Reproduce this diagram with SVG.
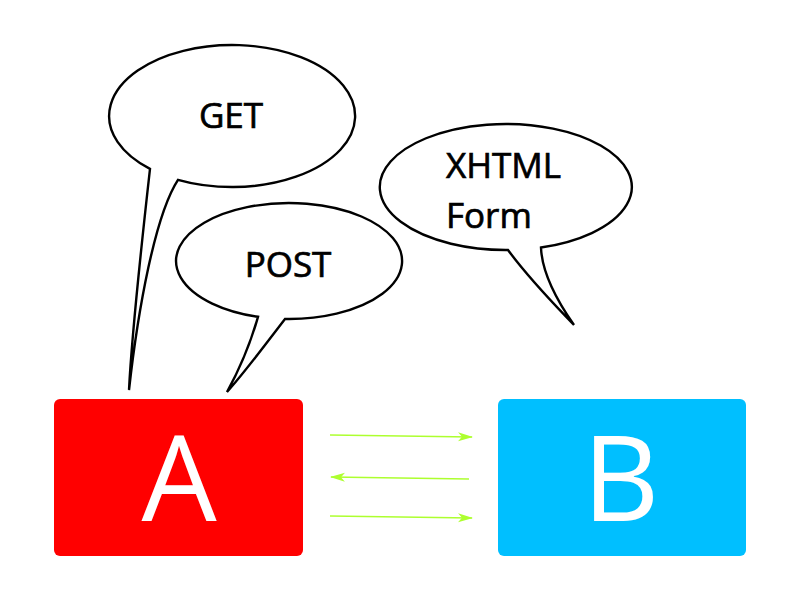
<svg xmlns="http://www.w3.org/2000/svg" width="800" height="600" viewBox="0 0 800 600">
<style>
.bubble{fill:#fff;stroke:#000;stroke-width:2.4;stroke-linejoin:miter}
.btxt{font-family:"Open Sans","Noto Sans",sans-serif;font-size:35px;fill:#000;stroke:#000;stroke-width:0.7}
.big{font-family:"Open Sans","Noto Sans",sans-serif;font-size:119px;fill:#fff;text-anchor:middle}
.conn{stroke:#adff2f;stroke-width:1.5;fill:none;marker-end:url(#ah)}
</style>
<defs>
<marker id="ah" markerWidth="16" markerHeight="10" refX="14" refY="4.5" orient="auto" markerUnits="userSpaceOnUse">
<path d="M0,0 L15,4.5 L0,9 L4,4.5 Z" fill="#adff2f"/>
</marker>
</defs>
<rect width="800" height="600" fill="#fff"/>
<g id="nodeA">
<rect x="54" y="399" width="249" height="157" rx="6" fill="#ff0000"/>
<text class="big" x="179" y="521">A</text>
</g>
<g id="nodeB">
<rect x="498" y="399" width="248" height="157" rx="6" fill="#00bfff"/>
<text class="big" x="621" y="521">B</text>
</g>
<g id="bubbleGET">
<path class="bubble" d="M178,179.8 A123,71 0 1 0 150,168.9 C142,240 132,330 129,390 C138,310 155,215 178,179.8 Z"/>
<text class="btxt" x="231" y="128" text-anchor="middle">GET</text>
</g>
<g id="bubblePOST">
<path class="bubble" d="M285,319 A113,58 0 1 0 258,316.8 C250,345 238,372 227,392 C245,372 265,345 285,319 Z"/>
<text class="btxt" x="288" y="277" text-anchor="middle">POST</text>
</g>
<g id="bubbleXHTML">
<path class="bubble" d="M508,250 A126,63 0 1 1 541,247.5 C542,275 560,305 574,325 C555,305 530,280 508,250 Z"/>
<text class="btxt" x="446" y="178">XHTML</text>
<text class="btxt" x="446" y="228">Form</text>
</g>
<g id="connectors">
<line class="conn" x1="330" y1="435" x2="472" y2="437"/>
<line class="conn" x1="469" y1="479" x2="331" y2="477"/>
<line class="conn" x1="330" y1="516" x2="472" y2="518"/>
</g>
</svg>
